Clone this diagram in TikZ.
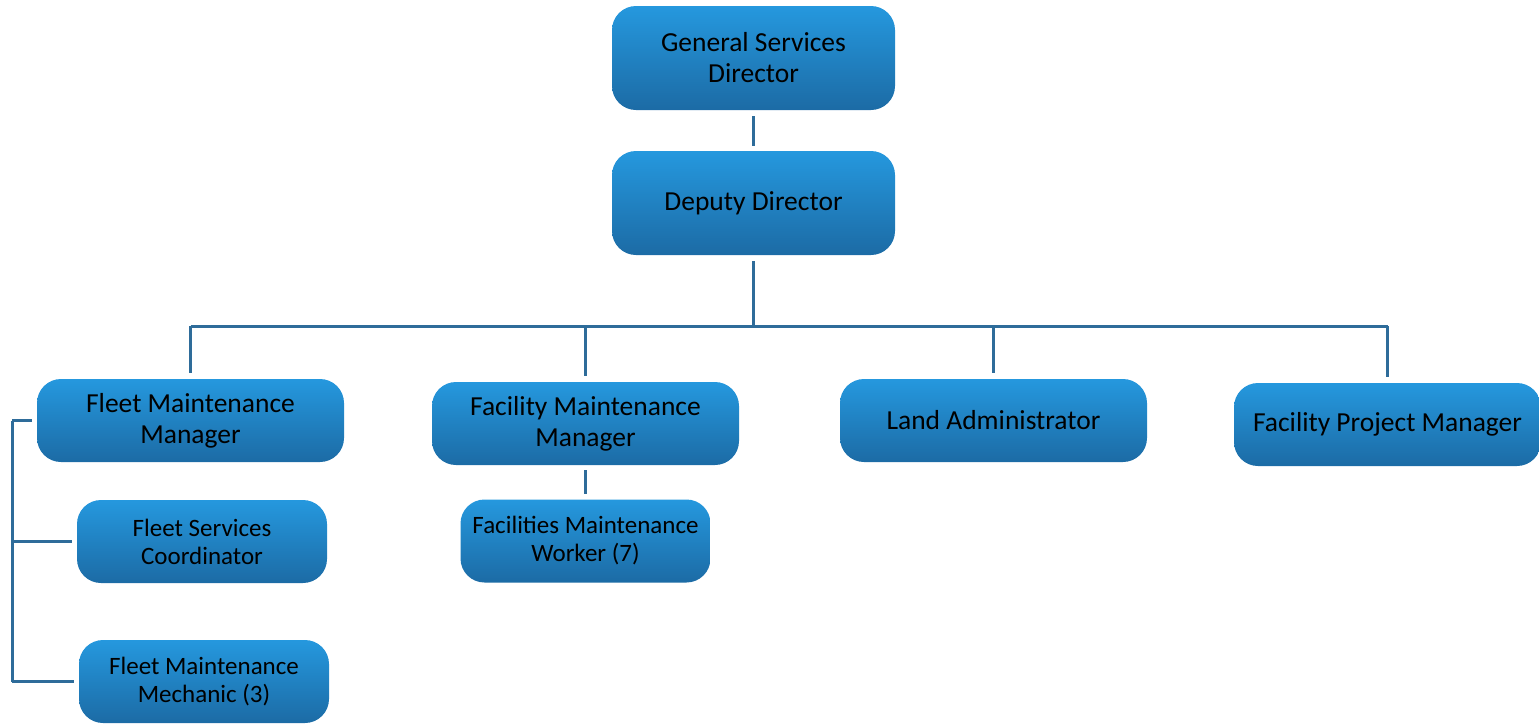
\documentclass[tikz,border=0pt]{standalone}
\usepackage{fontspec}
\setmainfont{Carlito}
\definecolor{boxtop}{HTML}{2598DE}
\definecolor{boxbot}{HTML}{1C6BA5}
\definecolor{linkblue}{HTML}{2E6C9A}
\tikzset{
	post/.style={rounded corners=24pt, top color=boxtop, bottom color=boxbot, align=center, inner sep=0pt, font=\fontsize{27.5}{31}\selectfont},
	bigpost/.style={post, minimum width=283pt, minimum height=104pt},
	midpost/.style={post, minimum width=307pt, minimum height=83pt},
	smallpost/.style={post, minimum width=250pt, minimum height=83pt, font=\fontsize{25}{28}\selectfont},
	link/.style={draw=linkblue, line width=3pt},
}
\begin{document}
\begin{tikzpicture}[x=1pt,y=-1pt]
	\useasboundingbox (0,0) rectangle (1539,724);
	% top of the chart
	\node[bigpost] (gsd) at (753.5,58) {General Services\\Director};
	\node[bigpost] (dd) at (753.5,203) {Deputy Director};
	% managers
	\node[midpost] (fmm) at (190.5,420.5) {Fleet Maintenance\\Manager};
	\node[midpost] (facmm) at (585.5,423.5) {Facility Maintenance\\Manager};
	\node[midpost] (la) at (993.5,420.5) {Land Administrator};
	\node[midpost] (fpm) at (1387.5,424.5) {Facility Project Manager};
	% staff
	\node[smallpost] (fsc) at (202,541.5) {Fleet Services\\Coordinator};
	\node[smallpost] (fmech) at (204,681.5) {Fleet Maintenance\\Mechanic (3)};
	\node[smallpost] (fmw) at (585.5,541) {Facilities Maintenance\\Worker (7)};
	\coordinate (bus) at (753.5,326);
	\coordinate (rail) at (12,420);
	% connectors
	\draw[link, shorten <=6pt, shorten >=5pt] (gsd) -- (dd);
	\draw[link, shorten <=6pt] (dd) -- (bus);
	\draw[link] (bus -| fmm) -- (bus -| fpm);
	\foreach \m in {fmm,facmm,la,fpm}
		\draw[link, shorten >=6pt] (bus -| \m) -- (\m);
	\draw[link, shorten <=5pt, shorten >=5pt] (facmm) -- (fmw);
	\draw[link] (rail |- fmm.west) -- (rail |- fmech.west);
	\foreach \s in {fmm,fsc,fmech}
		\draw[link, shorten >=5pt] (rail |- \s.west) -- (\s.west);
\end{tikzpicture}
\end{document}
